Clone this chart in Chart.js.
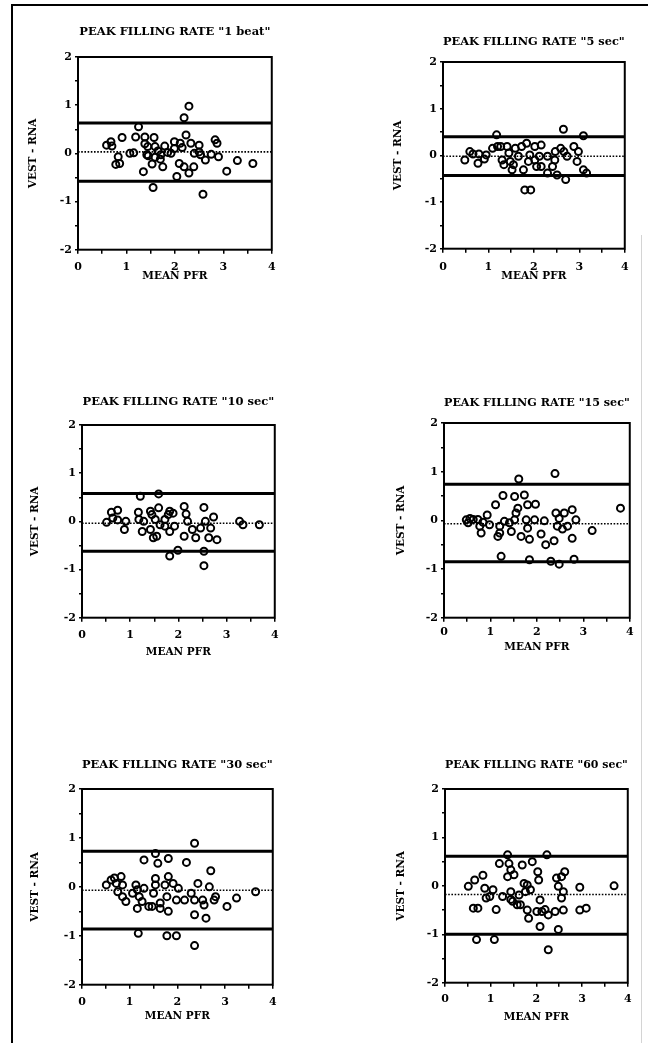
<!DOCTYPE html>
<html>
<head>
<meta charset="utf-8">
<script src="https://cdn.jsdelivr.net/npm/chart.js@4.4.1/dist/chart.umd.min.js"></script>
<style>
  body { margin: 0; background: #fff; width: 648px; height: 1043px; overflow: hidden; position: relative; }
  #frame { position: absolute; left: 11px; top: 4px; width: 640px; height: 1045px; border-left: 2px solid #000; border-top: 2px solid #000; }
  #scanEdge { position: absolute; left: 641px; top: 235px; width: 1px; height: 808px; background: #d4d4d4; }
  canvas { position: absolute; }
</style>
</head>
<body>
<div id="frame"></div>
<div id="scanEdge"></div>

<script>
// ---- data ----
const panelTitles = [
  'PEAK FILLING RATE "1 beat"',
  'PEAK FILLING RATE "5 sec"',
  'PEAK FILLING RATE "10 sec"',
  'PEAK FILLING RATE "15 sec"',
  'PEAK FILLING RATE "30 sec"',
  'PEAK FILLING RATE "60 sec"'
];
const xAxisTitle = 'MEAN PFR';
const yAxisTitle = 'VEST - RNA';

const xTicks = [0, 1, 2, 3, 4];
const yTicks = [-2, -1, 0, 1, 2];

// bias (dotted) and limits of agreement (solid) per panel
const meanLines  = [0.03, -0.02, -0.04, -0.07, -0.07, -0.18];
const upperLines = [0.63, 0.40, 0.58, 0.74, 0.73, 0.61];
const lowerLines = [-0.58, -0.43, -0.62, -0.85, -0.86, -1.00];

const beat1X = [0.59,0.68,0.70,0.91,0.78,0.86,0.83,1.07,1.15,1.25,1.19,1.35,1.38,1.38,1.44,1.42,1.55,1.53,1.57,1.59,1.59,1.71,1.75,1.79,1.92,1.99,1.99,2.04,2.09,2.11,2.19,2.29,2.23,2.19,2.29,2.33,2.39,2.50,2.50,2.53,2.58,2.63,2.83,2.87,2.90,3.07,3.29,3.61,1.45,1.65,1.70,1.85,2.15,2.40,2.75];
const beat1Y = [0.17,0.24,0.15,0.33,-0.23,-0.21,-0.07,0.00,0.01,0.55,0.34,-0.38,0.34,0.20,0.14,-0.03,-0.71,-0.22,0.33,0.14,-0.08,-0.03,-0.28,0.15,0.00,0.24,0.10,-0.48,-0.21,0.21,0.74,0.98,0.38,-0.28,-0.41,0.21,-0.28,0.17,0.03,-0.03,-0.85,-0.14,0.28,0.21,-0.07,-0.37,-0.15,-0.21,-0.05,0.05,-0.12,0.02,0.12,0.00,-0.02];

const sec5X = [0.48,0.59,0.66,0.79,0.77,0.91,0.95,1.09,1.18,1.20,1.27,1.30,1.34,1.41,1.45,1.48,1.52,1.55,1.59,1.66,1.73,1.77,1.80,1.93,1.84,1.88,1.91,2.02,2.06,2.12,2.16,2.02,2.30,2.41,2.47,2.46,2.51,2.59,2.65,2.70,2.66,2.73,2.88,2.98,2.95,3.09,3.09,3.16,2.30,2.16];
const sec5Y = [-0.10,0.08,0.03,0.03,-0.17,-0.08,0.01,0.15,0.44,0.19,0.19,-0.10,-0.20,0.19,0.05,-0.13,-0.31,-0.20,0.15,-0.02,0.19,-0.31,-0.74,-0.74,0.26,-0.13,0.01,0.19,-0.24,-0.02,0.22,-0.10,-0.38,-0.24,0.08,-0.10,-0.42,0.15,0.56,-0.52,0.08,-0.02,0.19,0.08,-0.13,0.42,-0.31,-0.38,-0.02,-0.24];

const sec10X = [0.51,0.61,0.74,0.64,0.74,0.88,0.91,1.17,1.21,1.18,1.25,1.28,1.42,1.45,1.59,1.59,1.42,1.48,1.55,1.52,1.62,1.72,1.82,1.89,1.82,1.92,1.82,1.99,2.12,2.16,2.12,2.19,2.36,2.46,2.53,2.56,2.53,2.53,2.63,2.67,2.73,2.80,3.27,3.34,3.68,1.72,2.29,1.79];
const sec10Y = [-0.02,0.19,0.23,0.07,0.03,-0.17,0.00,0.19,0.52,0.04,-0.21,0.00,0.21,0.14,0.28,0.57,-0.17,-0.34,-0.31,0.04,-0.07,-0.10,-0.21,0.17,0.21,-0.10,-0.72,-0.60,0.31,0.15,-0.31,0.00,-0.34,-0.14,0.29,0.00,-0.62,-0.92,-0.34,-0.14,0.09,-0.38,0.00,-0.07,-0.07,0.04,-0.17,0.14];

const sec15X = [0.48,0.52,0.63,0.73,0.77,0.80,0.93,0.98,1.11,1.16,1.20,1.20,1.23,1.27,1.30,1.45,1.52,1.55,1.59,1.61,1.73,1.66,1.77,1.80,1.84,1.84,1.95,1.97,1.80,2.09,2.16,2.19,2.30,2.37,2.39,2.41,2.44,2.48,2.59,2.66,2.76,2.76,2.80,2.84,3.19,3.80,0.56,1.41,1.52,2.48,2.55,0.84];
const sec15Y = [0.01,-0.05,0.02,0.02,-0.12,-0.26,0.11,-0.09,0.32,-0.33,-0.26,-0.12,-0.74,0.51,-0.02,-0.23,0.49,0.15,0.25,0.85,0.52,-0.33,0.01,0.32,-0.39,-0.81,0.01,0.33,-0.16,-0.28,-0.01,-0.50,-0.84,-0.42,0.96,0.15,-0.12,-0.90,0.15,-0.12,0.22,-0.37,-0.80,0.01,-0.21,0.25,0.04,-0.05,0.01,0.04,-0.18,-0.04];

const sec30X = [0.51,0.61,0.68,0.72,0.82,0.85,0.75,0.85,0.92,1.13,1.16,1.16,1.18,1.20,1.30,1.30,1.26,1.40,1.54,1.54,1.59,1.50,1.64,1.64,1.74,1.81,1.81,1.78,1.81,1.78,1.98,1.91,1.98,2.15,2.19,2.36,2.36,2.36,2.36,2.43,2.53,2.56,2.60,2.67,2.70,2.80,3.04,3.24,3.64,2.02,2.29,1.54,1.47,2.77,1.06];
const sec30Y = [0.04,0.14,0.18,0.07,0.21,0.04,-0.10,-0.20,-0.30,0.04,-0.06,-0.44,-0.95,-0.20,0.55,-0.03,-0.30,-0.40,0.17,0.68,0.48,-0.13,-0.33,-0.44,0.04,0.58,0.21,-0.20,-0.50,-1.00,-1.00,0.07,-0.27,-0.27,0.50,0.89,-0.27,-0.57,-1.20,0.07,-0.27,-0.37,-0.64,0.00,0.33,-0.20,-0.40,-0.23,-0.10,-0.03,-0.13,0.04,-0.40,-0.27,-0.13];

const sec60X = [0.51,0.65,0.83,0.62,0.72,0.69,1.08,0.87,0.90,1.05,1.12,0.98,1.19,1.26,1.37,1.40,1.37,1.44,1.44,1.48,1.51,1.58,1.65,1.69,1.73,1.76,1.80,1.83,1.87,1.91,2.01,2.03,2.05,2.08,2.08,2.12,2.23,2.26,2.26,2.41,2.44,2.48,2.48,2.55,2.59,2.62,2.55,2.59,2.95,2.95,3.09,3.70,1.44,1.80,2.19,1.62];
const sec60Y = [-0.01,0.12,0.22,-0.46,-0.46,-1.11,-1.11,-0.05,-0.25,-0.08,-0.49,-0.22,0.46,-0.22,0.64,0.46,0.19,0.33,-0.12,-0.32,0.23,-0.39,-0.39,0.43,0.05,-0.12,-0.50,-0.67,-0.08,0.50,-0.53,0.29,0.12,-0.29,-0.84,-0.53,0.64,-1.32,-0.60,-0.53,0.16,-0.01,-0.90,-0.25,-0.50,0.29,0.19,-0.12,-0.03,-0.50,-0.46,0.00,-0.28,0.02,-0.49,-0.19];

const panelX = [beat1X, sec5X, sec10X, sec15X, sec30X, sec60X];
const panelY = [beat1Y, sec5Y, sec10Y, sec15Y, sec30Y, sec60Y];

// ---- layout: plot box edges and text centres on the page ----
const boxes = [
  { left: 78,  right: 276, top: 57,  bottom: 250, titleMid: 32,  yTitleMid: 33,  xLabelMid: 267, xTitleMid: 277 },
  { left: 443, right: 630, top: 62,  bottom: 249, titleMid: 42,  yTitleMid: 398, xLabelMid: 267, xTitleMid: 277 },
  { left: 82,  right: 279, top: 425, bottom: 618, titleMid: 402, yTitleMid: 35,  xLabelMid: 635, xTitleMid: 653 },
  { left: 444, right: 631, top: 423, bottom: 618, titleMid: 403, yTitleMid: 401, xLabelMid: 632, xTitleMid: 648 },
  { left: 82,  right: 277, top: 789, bottom: 985, titleMid: 765, yTitleMid: 35,  xLabelMid: 1002, xTitleMid: 1017 },
  { left: 445, right: 631, top: 789, bottom: 983, titleMid: 765, yTitleMid: 401, xLabelMid: 999, xTitleMid: 1018 }
];

const FONT = 'DejaVu Serif';
const titleSize = 11.5;
const tickSize = 11;
const axisTitleSize = 10.5;
const yAxisWidth = 60;
const rightPad = 6;

const boxFrame = {
  id: 'boxFrame',
  afterDraw(chart) {
    const { ctx, chartArea: a } = chart;
    ctx.save();
    ctx.lineWidth = 2;
    ctx.strokeStyle = '#000';
    ctx.strokeRect(a.left, a.top, a.right - a.left, a.bottom - a.top);
    ctx.restore();
  }
};

function hLine(v) {
  return [{ x: xTicks[0], y: v }, { x: xTicks[xTicks.length - 1], y: v }];
}

function makePanel(i) {
  const b = boxes[i];
  const halfTitle = titleSize * 0.6;
  const halfAxis = axisTitleSize * 0.6;
  const canvasTop = Math.round(b.titleMid - halfTitle);
  const titleGap = b.top - canvasTop - titleSize * 1.2;
  const xHeight = b.xTitleMid - b.bottom + halfAxis;
  const xLabelPad = Math.max(0, b.xLabelMid - b.bottom - 4 - tickSize * 0.6);
  const yTitlePad = b.yTitleMid - (b.left - yAxisWidth) - halfAxis;

  const canvas = document.createElement('canvas');
  const w = b.right - b.left + yAxisWidth + rightPad;
  const h = Math.round(b.bottom + xHeight - canvasTop);
  canvas.width = w;
  canvas.height = h;
  canvas.style.left = (b.left - yAxisWidth) + 'px';
  canvas.style.top = canvasTop + 'px';
  canvas.style.width = w + 'px';
  canvas.style.height = h + 'px';
  document.body.appendChild(canvas);

  const pts = panelX[i].map((x, k) => ({ x: x, y: panelY[i][k] }));

  new Chart(canvas, {
    type: 'scatter',
    data: {
      datasets: [
        {
          data: pts,
          pointRadius: 3.5,
          pointBorderWidth: 2,
          pointBorderColor: '#000',
          pointBackgroundColor: 'rgba(255,255,255,0)'
        },
        {
          type: 'line',
          data: hLine(upperLines[i]),
          borderColor: '#000',
          borderWidth: 3,
          pointRadius: 0
        },
        {
          type: 'line',
          data: hLine(meanLines[i]),
          borderColor: '#000',
          borderWidth: 1.6,
          borderDash: [1.6, 1.6],
          pointRadius: 0
        },
        {
          type: 'line',
          data: hLine(lowerLines[i]),
          borderColor: '#000',
          borderWidth: 3,
          pointRadius: 0
        }
      ]
    },
    options: {
      responsive: false,
      animation: false,
      devicePixelRatio: 1,
      layout: { padding: { left: 0, top: 0, right: rightPad, bottom: 0 } },
      plugins: {
        legend: { display: false },
        tooltip: { enabled: false },
        title: {
          display: true,
          text: panelTitles[i],
          fullSize: false,
          color: '#000',
          font: { family: FONT, size: titleSize, weight: 'bold' },
          padding: { top: 0, bottom: titleGap }
        }
      },
      scales: {
        x: {
          type: 'linear',
          min: xTicks[0],
          max: xTicks[xTicks.length - 1],
          afterFit: (s) => { s.height = xHeight; },
          border: { display: false },
          grid: { drawOnChartArea: false, drawTicks: true, tickLength: 4, color: '#000', lineWidth: 1.5 },
          ticks: {
            stepSize: 0.5,
            autoSkip: false,
            maxRotation: 0,
            padding: xLabelPad,
            color: '#000',
            font: { family: FONT, size: tickSize, weight: 'bold' },
            callback: (v) => xTicks.includes(v) ? String(v) : ''
          },
          title: {
            display: true,
            text: xAxisTitle,
            color: '#000',
            font: { family: FONT, size: axisTitleSize, weight: 'bold' },
            padding: { top: 0, bottom: 0 }
          }
        },
        y: {
          type: 'linear',
          min: yTicks[0],
          max: yTicks[yTicks.length - 1],
          afterFit: (s) => { s.width = yAxisWidth; },
          border: { display: false },
          grid: { drawOnChartArea: false, drawTicks: true, tickLength: 3, color: '#000', lineWidth: 1.5 },
          ticks: {
            stepSize: 0.5,
            autoSkip: false,
            padding: 3,
            color: '#000',
            font: { family: FONT, size: tickSize, weight: 'bold' },
            callback: (v) => yTicks.includes(v) ? String(v) : ''
          },
          title: {
            display: true,
            text: yAxisTitle,
            color: '#000',
            font: { family: FONT, size: axisTitleSize, weight: 'bold' },
            padding: { top: yTitlePad, bottom: 0 }
          }
        }
      }
    },
    plugins: [boxFrame]
  });
}

for (let i = 0; i < boxes.length; i++) {
  makePanel(i);
}
</script>
</body>
</html>
